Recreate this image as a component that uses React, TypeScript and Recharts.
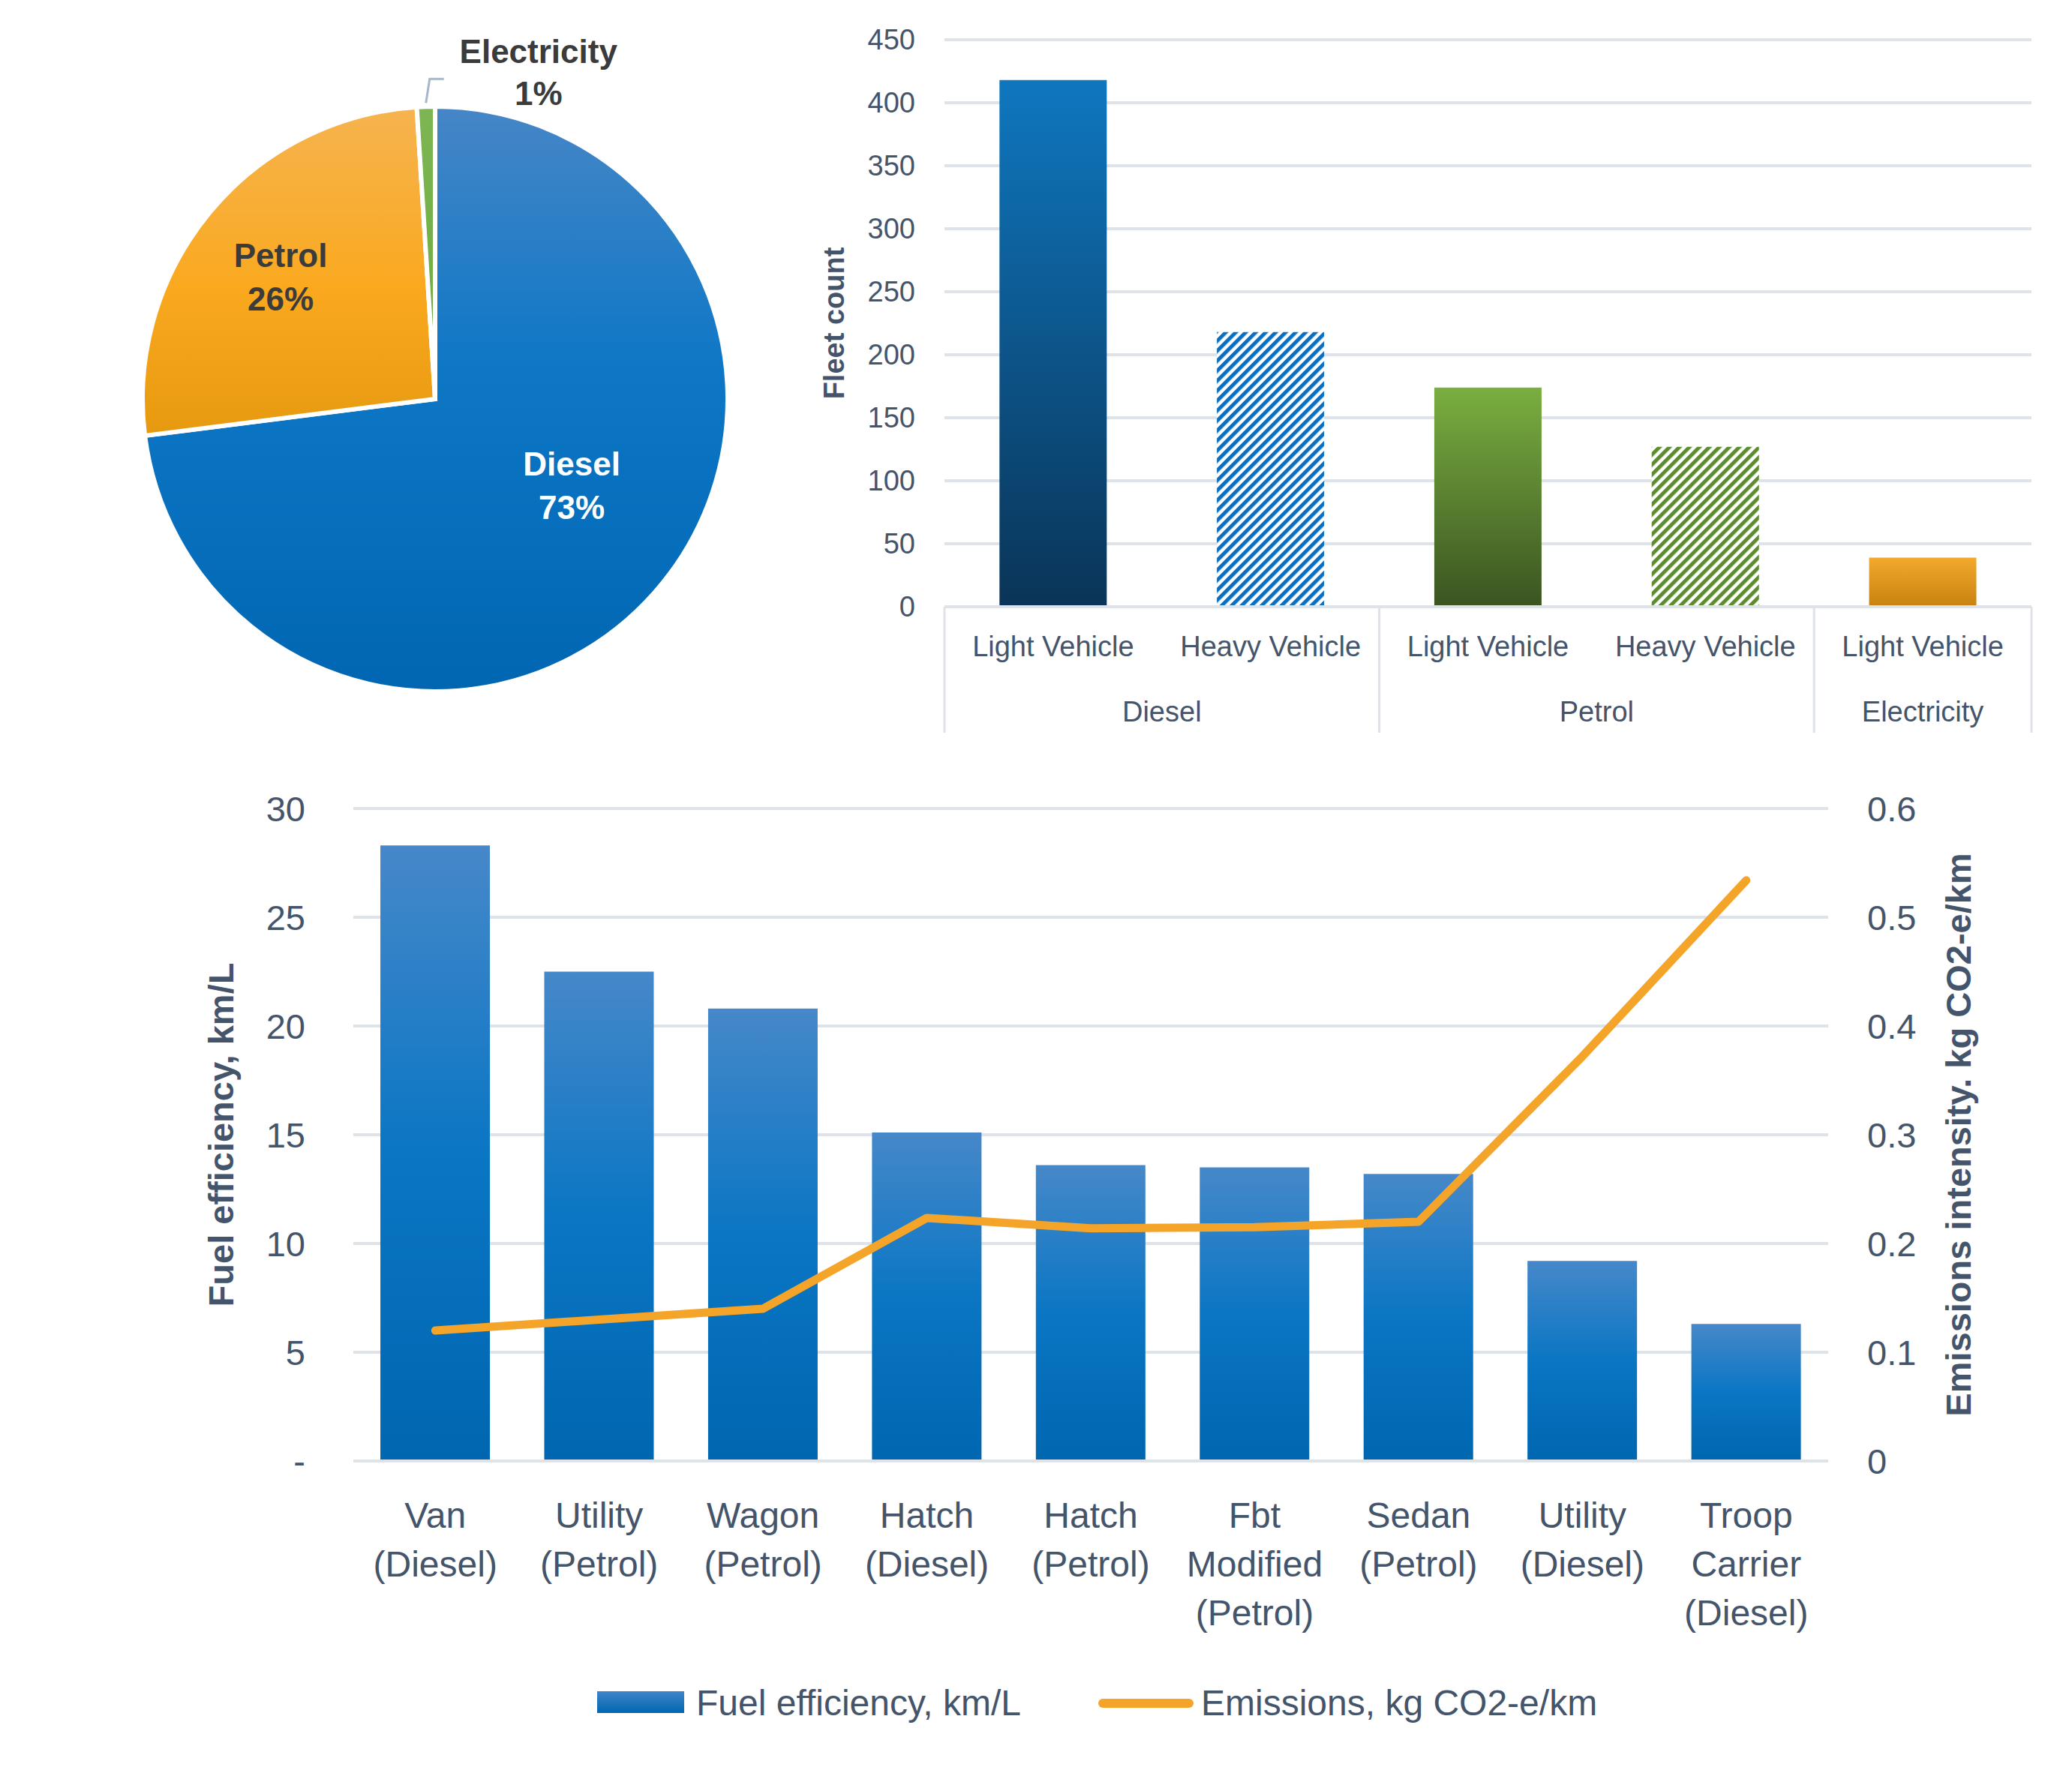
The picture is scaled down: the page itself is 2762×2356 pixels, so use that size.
import React from 'react';
import {
  PieChart,
  Pie,
  Cell,
  BarChart,
  Bar,
  XAxis,
  YAxis,
  CartesianGrid,
  ComposedChart,
  Line,
  Legend,
} from 'recharts';

// ---------- data ----------
const fuelTypes = ['Diesel', 'Petrol', 'Electricity'];
const fuelShares = [73, 26, 1];

const fleetVehicles = ['Light Vehicle', 'Heavy Vehicle', 'Light Vehicle', 'Heavy Vehicle', 'Light Vehicle'];
const fleetGroups = ['Diesel', 'Diesel', 'Petrol', 'Petrol', 'Electricity'];
const fleetCounts = [418, 218, 174, 127, 39];
const fleetTicks = [0, 50, 100, 150, 200, 250, 300, 350, 400, 450];

const vehicleCategories = [
  'Van (Diesel)',
  'Utility (Petrol)',
  'Wagon (Petrol)',
  'Hatch (Diesel)',
  'Hatch (Petrol)',
  'Fbt Modified (Petrol)',
  'Sedan (Petrol)',
  'Utility (Diesel)',
  'Troop Carrier (Diesel)',
];
const fuelEfficiency = [28.3, 22.5, 20.8, 15.1, 13.6, 13.5, 13.2, 9.2, 6.3];
const emissionsIntensity = [0.12, 0.13, 0.14, 0.2235, 0.214, 0.215, 0.22, 0.372, 0.534];
const efficiencyTicks = [0, 5, 10, 15, 20, 25, 30];
const emissionTicks = [0, 0.1, 0.2, 0.3, 0.4, 0.5, 0.6];

const seriesNames = ['Fuel efficiency, km/L', 'Emissions, kg CO2-e/km'];

// ---------- styles ----------
const FONT = "'Liberation Sans', Arial, Helvetica, sans-serif";
const TEXT = '#44546A';
const GRID = '#DEE2E9';
const ORANGE = '#F4A529';

const pieFills = ['url(#pieDiesel)', 'url(#piePetrol)', 'url(#pieElec)'];
const pieLabelStyles = [
  { r: 0.553, shift: 9, color: '#FFFFFF' },
  { r: 0.672, shift: 1.4, color: '#3B3B3B' },
  { r: 1, shift: 0, color: '#3B3B3B' },
];
const fleetFills = ['url(#gDieselLV)', 'url(#pDieselHV)', 'url(#gPetrolLV)', 'url(#pPetrolHV)', 'url(#gElecLV)'];

// ---------- tables ----------
const pieData = fuelTypes.map((n, i) => ({ name: n, value: fuelShares[i] }));
const fleetData = fleetCounts.map((v, i) => ({ key: fleetGroups[i] + '|' + fleetVehicles[i] + '|' + i, count: v }));
const effData = vehicleCategories.map((c, i) => ({ cat: c, fuel: fuelEfficiency[i], emis: emissionsIntensity[i] }));

// ---------- layout ----------
const TOP_W = 1712;
const TOP_H = 1000;
const TOP_MARGIN = { top: 53, right: 54, bottom: 21, left: 89 };
const TOP_YAXIS_W = 120;
const TOP_PLOT_W = TOP_W - TOP_MARGIN.right - TOP_MARGIN.left - TOP_YAXIS_W;

const BOT_W = 2762;
const BOT_H = 1356;
const LEG_H = 80;
const BOT_MARGIN = { top: 78, right: 75, bottom: 208 - LEG_H, left: 271 };
const LEG_TOP = 1230;

const RAD = Math.PI / 180;

const renderPieLabel = (props: any) => {
  const { cx, cy, midAngle, outerRadius, index, percent, name } = props;
  const st = pieLabelStyles[index];
  const pct = Math.round(percent * 100) + '%';
  if (index === 2) {
    const ex = cx + outerRadius * Math.cos(-midAngle * RAD);
    const ey = cy + outerRadius * Math.sin(-midAngle * RAD);
    return (
      <g>
        <path
          d={`M${ex},${ey - 5} L${ex + 5},${ey - 37} L${ex + 24},${ey - 37}`}
          fill="none"
          stroke="#A9B6C8"
          strokeWidth={3}
        />
        <text x={ex + 150} y={ey - 74} fill={st.color} fontFamily={FONT} fontWeight={700} fontSize={44} textAnchor="middle" dominantBaseline="central">
          {name}
        </text>
        <text x={ex + 150} y={ey - 18} fill={st.color} fontFamily={FONT} fontWeight={700} fontSize={44} textAnchor="middle" dominantBaseline="central">
          {pct}
        </text>
      </g>
    );
  }
  const a = (midAngle + st.shift) * RAD;
  const r = outerRadius * st.r;
  const x = cx + r * Math.cos(-a);
  const y = cy + r * Math.sin(-a);
  return (
    <g>
      <text x={x} y={y - 29} fill={st.color} fontFamily={FONT} fontWeight={700} fontSize={44} textAnchor="middle" dominantBaseline="central">
        {name}
      </text>
      <text x={x} y={y + 29} fill={st.color} fontFamily={FONT} fontWeight={700} fontSize={44} textAnchor="middle" dominantBaseline="central">
        {pct}
      </text>
    </g>
  );
};

const TopYTick = (props: any) => {
  const { x, y, payload } = props;
  return (
    <text x={x - 39} y={y} textAnchor="end" dominantBaseline="central" fill={TEXT} fontFamily={FONT} fontSize={38}>
      {payload.value}
    </text>
  );
};

const TopXTick = (props: any) => {
  const { x, y, payload } = props;
  const i = props.index ?? payload.index;
  const band = TOP_PLOT_W / fleetVehicles.length;
  const g = fleetGroups[i];
  const first = i === 0 || fleetGroups[i - 1] !== g;
  let n = 0;
  if (first) {
    while (i + n < fleetGroups.length && fleetGroups[i + n] === g) n++;
  }
  const left = x - band / 2;
  return (
    <g>
      <text x={x} y={y + 66} textAnchor="middle" fill={TEXT} fontFamily={FONT} fontSize={38}>
        {fleetVehicles[i]}
      </text>
      {first && (
        <g>
          <line x1={left} x2={left} y1={y} y2={y + 168} stroke={GRID} strokeWidth={3} />
          <text x={left + (n * band) / 2} y={y + 153} textAnchor="middle" fill={TEXT} fontFamily={FONT} fontSize={38}>
            {g}
          </text>
          {i + n === fleetGroups.length && (
            <line x1={left + n * band} x2={left + n * band} y1={y} y2={y + 168} stroke={GRID} strokeWidth={3} />
          )}
        </g>
      )}
    </g>
  );
};

const BotLeftTick = (props: any) => {
  const { x, y, payload } = props;
  return (
    <text x={x - 64} y={y} textAnchor="end" dominantBaseline="central" fill={TEXT} fontFamily={FONT} fontSize={47}>
      {payload.value === 0 ? '-' : payload.value}
    </text>
  );
};

const BotRightTick = (props: any) => {
  const { x, y, payload } = props;
  const v = Number(payload.value);
  return (
    <text x={x + 52} y={y} textAnchor="start" dominantBaseline="central" fill={TEXT} fontFamily={FONT} fontSize={47}>
      {v === 0 ? '0' : v.toFixed(1)}
    </text>
  );
};

const BotXTick = (props: any) => {
  const { x, y, payload } = props;
  const lines = String(payload.value).split(' ');
  return (
    <g>
      {lines.map((l, k) => (
        <text key={k} x={x} y={y + 89 + k * 65} textAnchor="middle" fill={TEXT} fontFamily={FONT} fontSize={48}>
          {l}
        </text>
      ))}
    </g>
  );
};

const rotatedTitle = (text: string, dx: number, size: number) => (props: any) => {
  const vb = props.viewBox || {};
  const bx = vb.x + dx;
  const cy = vb.y + vb.height / 2;
  return (
    <text
      x={bx}
      y={cy}
      transform={`rotate(-90 ${bx} ${cy})`}
      textAnchor="middle"
      fill={TEXT}
      fontFamily={FONT}
      fontWeight={700}
      fontSize={size}
    >
      {text}
    </text>
  );
};

const renderLegend = () => (
  <svg width={BOT_W} height={LEG_H} style={{ display: 'block' }}>
    <defs>
      <linearGradient id="legGrad" x1="0" y1="0" x2="0" y2="1">
        <stop offset="0%" stopColor="#3F85CA" />
        <stop offset="100%" stopColor="#0066B0" />
      </linearGradient>
    </defs>
    <rect x={796} y={1255 - LEG_TOP} width={116} height={29} fill="url(#legGrad)" />
    <text x={928} y={1287 - LEG_TOP} fill={TEXT} fontFamily={FONT} fontSize={48}>
      {seriesNames[0]}
    </text>
    <line x1={1470} x2={1585} y1={1271 - LEG_TOP} y2={1271 - LEG_TOP} stroke={ORANGE} strokeWidth={12} strokeLinecap="round" />
    <text x={1601} y={1287 - LEG_TOP} fill={TEXT} fontFamily={FONT} fontSize={48}>
      {seriesNames[1]}
    </text>
  </svg>
);

export default function App() {
  return (
    <div style={{ position: 'absolute', left: 0, top: 0, width: 2762, height: 2356, background: '#FFFFFF', overflow: 'hidden' }}>
      {/* Pie */}
      <div style={{ position: 'absolute', left: 0, top: 0 }}>
        <PieChart width={1100} height={1000} margin={{ top: 0, right: 0, bottom: 0, left: 0 }}>
          <defs>
            <linearGradient id="pieDiesel" x1="0" y1="0" x2="0" y2="1">
              <stop offset="0%" stopColor="#4686C6" />
              <stop offset="45%" stopColor="#0D77C6" />
              <stop offset="100%" stopColor="#0066B2" />
            </linearGradient>
            <linearGradient id="piePetrol" x1="0" y1="0" x2="0" y2="1">
              <stop offset="0%" stopColor="#F6B34F" />
              <stop offset="55%" stopColor="#FAA91F" />
              <stop offset="100%" stopColor="#E6990F" />
            </linearGradient>
            <linearGradient id="pieElec" x1="0" y1="0" x2="0" y2="1">
              <stop offset="0%" stopColor="#7DB653" />
              <stop offset="100%" stopColor="#6AAA3E" />
            </linearGradient>
          </defs>
          <Pie
            data={pieData}
            dataKey="value"
            nameKey="name"
            cx={580}
            cy={532}
            outerRadius={390}
            startAngle={90}
            endAngle={-270}
            stroke="#FFFFFF"
            strokeWidth={6}
            label={renderPieLabel}
            labelLine={false}
            isAnimationActive={false}
          >
            {pieData.map((d, i) => (
              <Cell key={d.name} fill={pieFills[i]} />
            ))}
          </Pie>
        </PieChart>
      </div>

      {/* Fleet count bar chart */}
      <div style={{ position: 'absolute', left: 1050, top: 0 }}>
        <BarChart width={TOP_W} height={TOP_H} data={fleetData} margin={TOP_MARGIN} barCategoryGap="25.3%">
          <defs>
            <linearGradient id="gDieselLV" x1="0" y1="0" x2="0" y2="1">
              <stop offset="0%" stopColor="#0F77BF" />
              <stop offset="100%" stopColor="#0A3457" />
            </linearGradient>
            <linearGradient id="gPetrolLV" x1="0" y1="0" x2="0" y2="1">
              <stop offset="0%" stopColor="#7AAE40" />
              <stop offset="100%" stopColor="#3A5421" />
            </linearGradient>
            <linearGradient id="gElecLV" x1="0" y1="0" x2="0" y2="1">
              <stop offset="0%" stopColor="#F3A92D" />
              <stop offset="100%" stopColor="#C8810F" />
            </linearGradient>
            <pattern id="pDieselHV" patternUnits="userSpaceOnUse" width="9.4" height="9.4" patternTransform="rotate(45)">
              <rect width="9.4" height="9.4" fill="#FFFFFF" />
              <rect width="5" height="9.4" fill="#0A6FC0" />
            </pattern>
            <pattern id="pPetrolHV" patternUnits="userSpaceOnUse" width="9.4" height="9.4" patternTransform="rotate(45)">
              <rect width="9.4" height="9.4" fill="#FFFFFF" />
              <rect width="5" height="9.4" fill="#5C8C2E" />
            </pattern>
          </defs>
          <CartesianGrid vertical={false} stroke={GRID} strokeWidth={4} />
          <XAxis
            dataKey="key"
            interval={0}
            height={170}
            tickSize={0}
            tickMargin={0}
            tickLine={false}
            axisLine={{ stroke: GRID, strokeWidth: 4 }}
            tick={(p: any) => <TopXTick {...p} />}
          />
          <YAxis
            width={TOP_YAXIS_W}
            domain={[0, 450]}
            ticks={fleetTicks}
            interval={0}
            tickSize={0}
            tickMargin={0}
            tickLine={false}
            axisLine={false}
            tick={(p: any) => <TopYTick {...p} />}
            label={{ content: rotatedTitle('Fleet count', -14, 38) }}
          />
          <Bar dataKey="count" isAnimationActive={false}>
            {fleetData.map((d, i) => (
              <Cell key={d.key} fill={fleetFills[i]} />
            ))}
          </Bar>
        </BarChart>
      </div>

      {/* Fuel efficiency / emissions */}
      <div style={{ position: 'absolute', left: 0, top: 1000 }}>
        <ComposedChart width={BOT_W} height={BOT_H} data={effData} margin={BOT_MARGIN} barCategoryGap="16.5%">
          <defs>
            <linearGradient id="fuelGrad" x1="0" y1="0" x2="0" y2="1">
              <stop offset="0%" stopColor="#4688C9" />
              <stop offset="50%" stopColor="#0A76C4" />
              <stop offset="100%" stopColor="#0066B0" />
            </linearGradient>
          </defs>
          <CartesianGrid vertical={false} stroke={GRID} strokeWidth={4} yAxisId="left" />
          <XAxis
            dataKey="cat"
            interval={0}
            height={200}
            tickSize={0}
            tickMargin={0}
            tickLine={false}
            axisLine={{ stroke: GRID, strokeWidth: 4 }}
            tick={(p: any) => <BotXTick {...p} />}
          />
          <YAxis
            yAxisId="left"
            width={200}
            domain={[0, 30]}
            ticks={efficiencyTicks}
            interval={0}
            tickSize={0}
            tickMargin={0}
            tickLine={false}
            axisLine={false}
            tick={(p: any) => <BotLeftTick {...p} />}
            label={{ content: rotatedTitle('Fuel efficiency, km/L', 40, 47) }}
          />
          <YAxis
            yAxisId="right"
            orientation="right"
            width={250}
            domain={[0, 0.6]}
            ticks={emissionTicks}
            interval={0}
            tickSize={0}
            tickMargin={0}
            tickLine={false}
            axisLine={false}
            tick={(p: any) => <BotRightTick {...p} />}
            label={{ content: rotatedTitle('Emissions intensity. kg CO2-e/km', 190, 47) }}
          />
          <Bar yAxisId="left" dataKey="fuel" name={seriesNames[0]} fill="url(#fuelGrad)" isAnimationActive={false} />
          <Line
            yAxisId="right"
            dataKey="emis"
            name={seriesNames[1]}
            type="linear"
            stroke={ORANGE}
            strokeWidth={11}
            strokeLinecap="round"
            strokeLinejoin="round"
            dot={false}
            activeDot={false}
            isAnimationActive={false}
          />
          <Legend
            verticalAlign="bottom"
            height={LEG_H}
            content={renderLegend}
            wrapperStyle={{ top: LEG_TOP, left: 0, bottom: 'auto', width: BOT_W, height: LEG_H }}
          />
        </ComposedChart>
      </div>
    </div>
  );
}
